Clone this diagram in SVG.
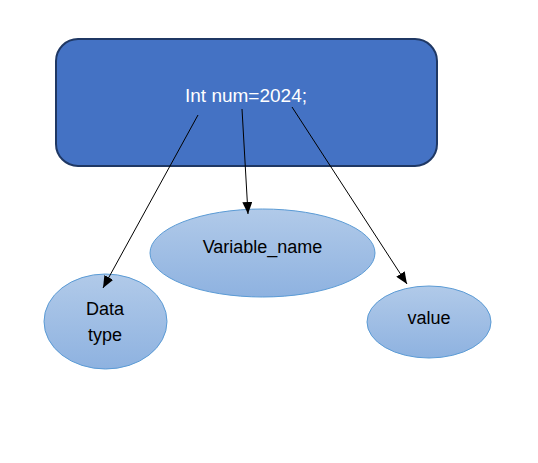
<svg xmlns="http://www.w3.org/2000/svg" width="538" height="463" viewBox="0 0 538 463">
<defs>
<linearGradient id="g" x1="0" y1="0" x2="0" y2="1">
<stop offset="0" stop-color="#B1CAE9"/>
<stop offset="1" stop-color="#8EB2E0"/>
</linearGradient>
<marker id="ah" viewBox="0 0 12 10" refX="12" refY="5" markerWidth="12" markerHeight="10" markerUnits="userSpaceOnUse" orient="auto">
<path d="M0,0 L12,5 L0,10 z" fill="#000"/>
</marker>
<style>
.el{fill:url(#g);stroke:#5B9BD5;stroke-width:1}
.t{font-family:"Liberation Sans",Arial,sans-serif;font-size:18px;text-anchor:middle;fill:#000}
.c{stroke:#000;stroke-width:1;fill:none;marker-end:url(#ah)}
</style>
</defs>
<rect width="538" height="463" fill="#fff"/>
<g id="box">
<rect x="56" y="39" width="381" height="127" rx="22" ry="22" fill="#4472C4" stroke="#1F3864" stroke-width="2"/>
<text x="246" y="102" class="t" style="fill:#fff;font-size:19px">Int num=2024;</text>
</g>
<g id="variable_name">
<ellipse cx="262.5" cy="253" rx="112.5" ry="44" class="el"/>
<text x="262.5" y="253" class="t">Variable_name</text>
</g>
<g id="data_type">
<ellipse cx="105.5" cy="321.5" rx="61.5" ry="47.5" class="el"/>
<text x="105" y="315" class="t">Data</text>
<text x="105" y="341" class="t">type</text>
</g>
<g id="value">
<ellipse cx="429" cy="322" rx="62" ry="36" class="el"/>
<text x="429" y="324" class="t">value</text>
</g>
<g id="connectors">
<line x1="198" y1="115" x2="103" y2="288" class="c"/>
<line x1="242" y1="109" x2="248" y2="214" class="c"/>
<line x1="292" y1="107" x2="407" y2="284" class="c"/>
</g>
</svg>
